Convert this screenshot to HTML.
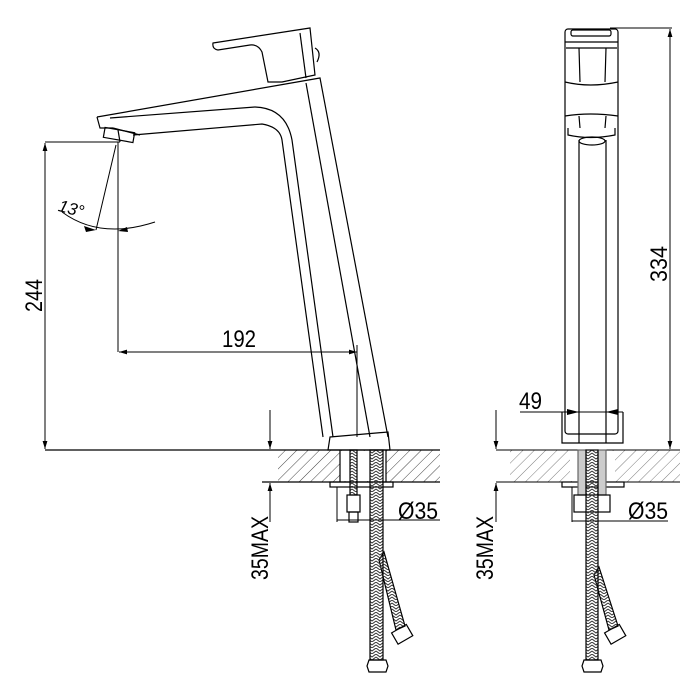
<!DOCTYPE html>
<html><head><style>html,body{margin:0;padding:0;background:#fff}svg{display:block}</style></head><body>
<svg width="700" height="700" viewBox="0 0 700 700" xmlns="http://www.w3.org/2000/svg" font-family="Liberation Sans, sans-serif">
<defs>
<pattern id="h" width="8" height="8" patternUnits="userSpaceOnUse" patternTransform="rotate(45)">
<line x1="0" y1="0" x2="0" y2="8" stroke="#444" stroke-width="1"/></pattern>
<pattern id="br" width="8" height="6" patternUnits="userSpaceOnUse">
<path d="M0,0 L4,3 L8,0 M0,3 L4,6 L8,3" stroke="#333" fill="none" stroke-width="1"/></pattern>
<marker id="a" viewBox="0 0 10 10" refX="10" refY="5" markerWidth="8" markerHeight="8" orient="auto-start-reverse"><path d="M0,2 L10,5 L0,8 z" fill="#000"/></marker>
</defs>
<g stroke="#000" stroke-width="1.2" fill="none">
<!-- LEFT VIEW -->
<path d="M213,43 L310,28 L315,75 L282,82 L268,82 L262,52 Q258,44 250,45 L218,50 Q212,49 213,43 Z"/>
<path d="M300,33 L306,78"/><path d="M315,48 Q322,52 317,62"/>
<path d="M97,117 L320,78 L388,437"/>
<path d="M306,83 L370,437"/>
<path d="M97,117 L100,128 L113,128"/>
<path d="M110,118 L255,107 Q286,108 292,140 L333,437"/>
<path d="M133,135 L262,124 Q280,127 282,140 L323,437"/>
<path d="M113,128 L140,135"/>
<rect x="104" y="130" width="30" height="10" transform="rotate(10 119 135)"/>
<line x1="118" y1="130" x2="120" y2="142"/>
<path d="M330,437 L388,432 L390,450 L328,450 Z"/>
<line x1="45" y1="142" x2="120" y2="142" stroke-width="1"/>
<line x1="45" y1="143" x2="45" y2="449" marker-start="url(#a)" marker-end="url(#a)" stroke-width="1"/>
<line x1="118" y1="142" x2="118" y2="352" stroke-width="1"/>
<line x1="116" y1="145" x2="96" y2="230" stroke-width="1"/>
<path d="M62,212 Q100,240 155,222" stroke-width="1"/>
<path d="M84,226 l12,4 l-10,2z M128,232 l-10,-1 l9,-4z" fill="#000" stroke="none"/>
<line x1="119" y1="352" x2="357" y2="352" marker-start="url(#a)" marker-end="url(#a)" stroke-width="1"/>
<line x1="357" y1="345" x2="357" y2="437" stroke-width="1"/>
<rect x="278" y="450" width="162" height="32" fill="url(#h)" stroke="none"/>
<rect x="340" y="451" width="46" height="30" fill="#fff" stroke="none"/>
<line x1="45" y1="450" x2="440" y2="450"/>
<line x1="262" y1="482" x2="440" y2="482"/>
<line x1="340" y1="450" x2="340" y2="482"/><line x1="386" y1="450" x2="386" y2="482"/>
<line x1="270" y1="410" x2="270" y2="449" marker-end="url(#a)" stroke-width="1"/>
<line x1="270" y1="522" x2="270" y2="483" marker-end="url(#a)" stroke-width="1"/>
<rect x="330" y="482" width="63" height="5"/>
<rect x="350" y="450" width="7" height="45" fill="url(#br)"/>
<rect x="347" y="495" width="13" height="17"/>
<rect x="349" y="512" width="9" height="10"/>
<line x1="337" y1="487" x2="337" y2="522" stroke-width="1"/>
<line x1="337" y1="520" x2="440" y2="520" stroke-width="1"/>
<path d="M379,560 L384,552 L405,626 L396,630 Z" fill="url(#br)"/>
<rect x="370" y="450" width="13" height="210" fill="url(#br)"/>
<path d="M369,660 L386,660 L388,666 L386,672 L369,672 L367,666 Z"/>
<rect x="394" y="628" width="17" height="13" transform="rotate(-30 402 635)"/>
<!-- RIGHT VIEW -->
<rect x="565" y="29" width="53" height="405" rx="3"/>
<rect x="571" y="30" width="40" height="6" rx="2"/>
<path d="M565,42 L618,42 M566,48 L617,48 M579,48 L580,82 M606,48 L605,82 M565,82 Q590,88 618,82 M565,116 Q590,112 618,116 M579,116 L580,128 M606,116 L605,128 M568,128 L568,135 Q590,140 615,135 L615,128"/>
<ellipse cx="592" cy="141" rx="13" ry="4"/>
<line x1="579" y1="140" x2="579" y2="443"/><line x1="606" y1="140" x2="606" y2="443"/>
<path d="M562,412 L562,443 L623,443 L623,412"/>
<line x1="520" y1="412" x2="623" y2="412" stroke-width="1"/>
<path d="M567,409 l12,3 l-12,3z M618,409 l-12,3 l12,3z" fill="#000" stroke="none"/>
<line x1="610" y1="28" x2="672" y2="28" stroke-width="1"/>
<line x1="670" y1="29" x2="670" y2="449" marker-start="url(#a)" marker-end="url(#a)" stroke-width="1"/>
<rect x="510" y="450" width="170" height="32" fill="url(#h)" stroke="none" opacity="0.7"/>
<rect x="570" y="451" width="45" height="30" fill="#fff" stroke="none"/>
<line x1="496" y1="450" x2="680" y2="450" stroke-width="1"/>
<line x1="496" y1="482" x2="680" y2="482" stroke-width="1"/>
<line x1="496" y1="410" x2="496" y2="449" marker-end="url(#a)" stroke-width="1"/>
<line x1="496" y1="522" x2="496" y2="483" marker-end="url(#a)" stroke-width="1"/>
<rect x="562" y="482" width="62" height="5"/>
<rect x="578" y="450" width="8" height="45" fill="#ccc" stroke="#666"/>
<rect x="598" y="450" width="8" height="45" fill="#ccc" stroke="#666"/>
<rect x="574" y="495" width="36" height="17"/>
<line x1="572" y1="487" x2="572" y2="522" stroke-width="1"/>
<line x1="572" y1="521" x2="668" y2="521" stroke-width="1"/>
<path d="M594,575 L599,567 L618,626 L609,630 Z" fill="url(#br)"/>
<rect x="586" y="450" width="12" height="210" fill="url(#br)"/>
<path d="M584,660 L601,660 L603,666 L601,672 L584,672 L582,666 Z"/>
<rect x="607" y="628" width="17" height="13" transform="rotate(-30 615 635)"/>
</g>
<g font-size="24" fill="#000">
<text x="222" y="347" textLength="34" lengthAdjust="spacingAndGlyphs">192</text>
<text x="58" y="214" font-size="17" font-style="italic" transform="rotate(15 70 210)">13°</text>
<text transform="translate(42,312) rotate(-90)" textLength="33" lengthAdjust="spacingAndGlyphs">244</text>
<text x="398" y="519" textLength="40" lengthAdjust="spacingAndGlyphs">Ø35</text>
<text transform="translate(268,580) rotate(-90)" textLength="64" lengthAdjust="spacingAndGlyphs">35MAX</text>
<text x="519" y="409" textLength="23" lengthAdjust="spacingAndGlyphs">49</text>
<text transform="translate(667,282) rotate(-90)" textLength="36" lengthAdjust="spacingAndGlyphs">334</text>
<text x="628" y="519" textLength="40" lengthAdjust="spacingAndGlyphs">Ø35</text>
<text transform="translate(493,580) rotate(-90)" textLength="64" lengthAdjust="spacingAndGlyphs">35MAX</text>
</g>
</svg>
</body></html>
